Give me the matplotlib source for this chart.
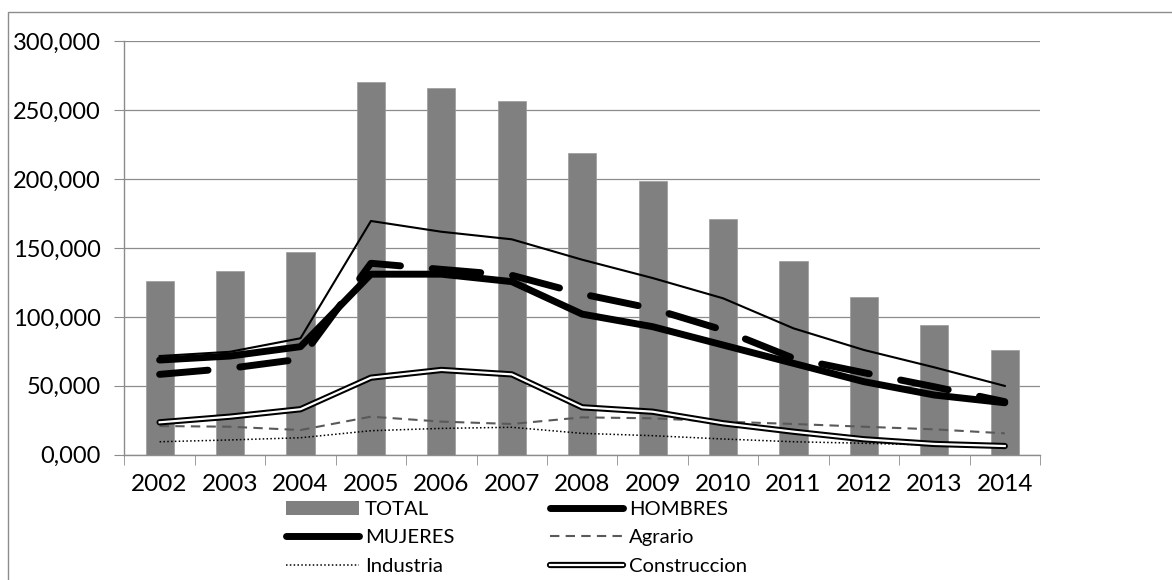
import numpy as np
import matplotlib.pyplot as plt
from matplotlib.lines import Line2D
from matplotlib.patches import Rectangle, Patch

plt.rcParams['font.family'] = ['Lato', 'DejaVu Sans']

# data (values in units)
years = ['2002', '2003', '2004', '2005', '2006', '2007', '2008',
         '2009', '2010', '2011', '2012', '2013', '2014']
total = [125800, 133000, 147100, 270200, 266000, 256900, 218600,
         198300, 170700, 140800, 114600, 94300, 76200]
hombres = [68700, 71600, 78400, 131000, 131000, 125600, 102000,
           92900, 79600, 66300, 53000, 43300, 37700]
mujeres = [58300, 62700, 69400, 138900, 134500, 130200, 116600,
           106000, 90500, 70000, 59500, 49300, 38500]
agrario = [20800, 20300, 17900, 27600, 24000, 22300, 27100,
           26400, 24000, 22300, 20300, 18400, 15500]
industria = [9400, 10700, 12300, 17400, 19100, 19900, 15500,
             13800, 11400, 9400, 8300, 7000, 5800]
construccion = [23500, 27600, 33000, 55900, 61500, 58300, 34400,
                31200, 22800, 16700, 11200, 7800, 6300]
servicios = [71600, 74700, 84500, 169600, 161800, 156300, 141500,
             128200, 113500, 91700, 76000, 63400, 49900]

yticks = [0, 50000, 100000, 150000, 200000, 250000, 300000]
ytick_labels = ['0,000', '50,000', '100,000', '150,000', '200,000', '250,000', '300,000']

W, H = 1172, 580
fig = plt.figure(figsize=(W / 100, H / 100), dpi=100)
ax = fig.add_axes([124.4 / W, 1 - 454.7 / H, (1040 - 124.4) / W, (454.7 - 41.3) / H])

# outer chart frame
fig.patches.append(Rectangle((8 / W, -0.2), 1.2, 1.2 - 12 / H, transform=fig.transFigure,
                             fill=False, edgecolor='#8c8c8c', linewidth=1.0, zorder=0))

x = np.arange(len(years))
ax.bar(x, total, width=0.40, color='#808080', edgecolor='#9a9a9a', linewidth=0.5, zorder=2)

ax.plot(x, hombres, color='black', lw=5, solid_capstyle='round', solid_joinstyle='round', zorder=3)
ax.plot(x, mujeres, color='black', lw=5, dashes=(7, 4.6), dash_capstyle='round', zorder=4)
ax.plot(x, agrario, color='#595959', lw=1.5, dashes=(4.5, 3), zorder=5)
ax.plot(x, industria, color='black', lw=1.1, dashes=(1, 1.5), zorder=5)
ax.plot(x, construccion, color='black', lw=4.5, solid_joinstyle='round', solid_capstyle='round', zorder=5)
ax.plot(x, construccion, color='white', lw=1.6, solid_joinstyle='round', zorder=6)
ax.plot(x, servicios, color='black', lw=1.5, zorder=7)

ax.set_ylim(0, 300000)
ax.set_xlim(-0.5, len(years) - 0.5)
ax.set_yticks(yticks)
ax.set_yticklabels(ytick_labels)
ax.set_xticks(x)
ax.set_xticklabels(years)
ax.set_xticks(np.arange(len(years) + 1) - 0.5, minor=True)
ax.tick_params(axis='x', which='major', length=0, pad=14, labelsize=17.5)
ax.tick_params(axis='x', which='minor', length=7, color='#8c8c8c', direction='out')
ax.tick_params(axis='y', length=7, color='#8c8c8c', pad=10, labelsize=17)

ax.grid(axis='y', color='#8c8c8c', lw=0.9, zorder=0)
ax.set_axisbelow(True)
for s in ['top', 'right']:
    ax.spines[s].set_visible(False)
for s in ['left', 'bottom']:
    ax.spines[s].set_color('#8c8c8c')
    ax.spines[s].set_linewidth(1.0)

h_total = Patch(facecolor='#808080', edgecolor='none')
h_hom = Line2D([], [], color='black', lw=5, solid_capstyle='round')
h_muj = Line2D([], [], color='black', lw=5, solid_capstyle='round')
h_agr = Line2D([], [], color='#595959', lw=1.5, dashes=(4.5, 3))
h_ind = Line2D([], [], color='black', lw=1.1, dashes=(1, 1.5))
h_con = (Line2D([], [], color='black', lw=4.5, solid_capstyle='round'),
         Line2D([], [], color='white', lw=1.6))

fig.legend([h_total, h_muj, h_ind, h_hom, h_agr, h_con],
           ['TOTAL', 'MUJERES', 'Industria', 'HOMBRES', 'Agrario', 'Construccion'],
           ncol=2, loc='upper left', bbox_to_anchor=(286 / W, 1 - 500.5 / H),
           frameon=False, fontsize=14.6, handlelength=3.6, handletextpad=0.3,
           columnspacing=4.7, labelspacing=0.57, borderpad=0, borderaxespad=0)

fig.savefig('out.png', dpi=100)
